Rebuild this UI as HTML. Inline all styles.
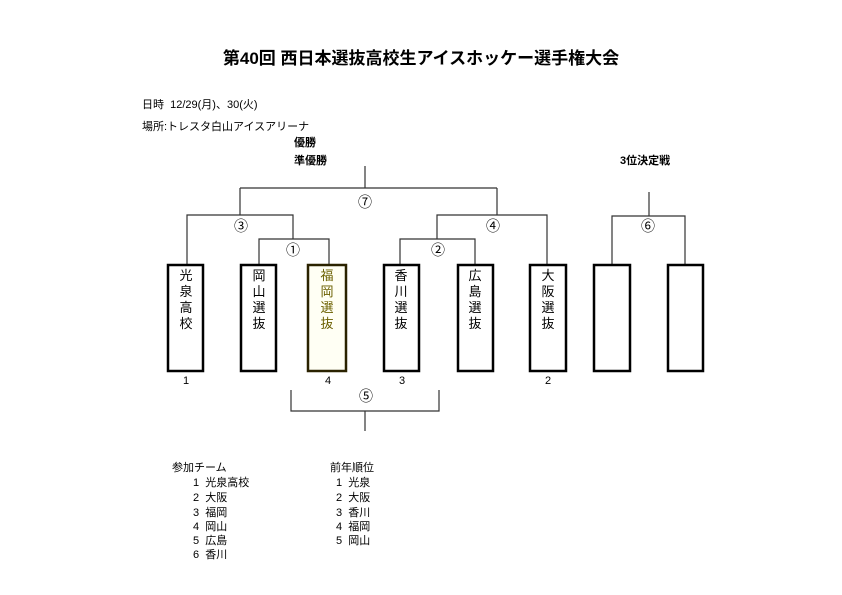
<!DOCTYPE html>
<html><head><meta charset="utf-8"><style>
html,body{margin:0;padding:0;background:#fff;}
svg{display:block;font-family:"Liberation Sans","Noto Sans CJK JP",sans-serif;}
text{white-space:pre;}
</style></head><body>
<svg width="842" height="595" viewBox="0 0 842 595" xmlns="http://www.w3.org/2000/svg" xml:space="preserve">
<rect width="842" height="595" fill="#fff"/>
<text x="421" y="64" font-size="17" font-weight="bold" text-anchor="middle">第40回 西日本選抜高校生アイスホッケー選手権大会</text>
<text x="142" y="108" font-size="11">日時  12/29(月)、30(火)</text>
<text x="142" y="130" font-size="11">場所:トレスタ白山アイスアリーナ</text>
<text x="294" y="146" font-size="11" font-weight="bold">優勝</text>
<text x="294" y="164" font-size="11" font-weight="bold">準優勝</text>
<text x="620" y="164" font-size="11" font-weight="bold">3位決定戦</text>
<g stroke="#333" stroke-width="1.2" fill="none">
<path d="M365 166V188M240 188H497M240 188V215M497 188V215"/>
<path d="M187 264V215H293V239M259 264V239H329V264"/>
<path d="M437 239V215H547V264M400 264V239H475V264"/>
<path d="M649 192V216M612 264V216H685V264"/>
<path d="M291 390V411H439V390M365 411V431"/>
</g>
<g stroke="#000" stroke-width="2.5" fill="#fff">
<rect x="168" y="265" width="35" height="106"/>
<rect x="241" y="265" width="35" height="106"/>
<rect x="308" y="265" width="38" height="106" stroke="#2a2200" fill="#fffff4"/>
<rect x="384" y="265" width="35" height="106"/>
<rect x="458" y="265" width="35" height="106"/>
<rect x="530" y="265" width="36" height="106"/>
<rect x="594" y="265" width="36" height="106"/>
<rect x="668" y="265" width="35" height="106"/>
</g>
<g font-size="13" text-anchor="middle">
<text x="186" y="280">光</text><text x="186" y="296">泉</text><text x="186" y="312">高</text><text x="186" y="328">校</text>
<text x="259" y="280">岡</text><text x="259" y="296">山</text><text x="259" y="312">選</text><text x="259" y="328">抜</text>
<g fill="#6b6000"><text x="327" y="280">福</text><text x="327" y="296">岡</text><text x="327" y="312">選</text><text x="327" y="328">抜</text></g>
<text x="401" y="280">香</text><text x="401" y="296">川</text><text x="401" y="312">選</text><text x="401" y="328">抜</text>
<text x="475" y="280">広</text><text x="475" y="296">島</text><text x="475" y="312">選</text><text x="475" y="328">抜</text>
<text x="548" y="280">大</text><text x="548" y="296">阪</text><text x="548" y="312">選</text><text x="548" y="328">抜</text>
</g>
<g font-size="11" text-anchor="middle">
<text x="186" y="384">1</text><text x="328" y="384">4</text><text x="402" y="384">3</text><text x="548" y="384">2</text>
</g>
<g font-size="14" text-anchor="middle">
<text x="365" y="207">⑦</text><text x="241" y="231">③</text><text x="293" y="255">①</text>
<text x="438" y="255">②</text><text x="493" y="231">④</text><text x="648" y="231">⑥</text><text x="366" y="401">⑤</text>
</g>
<g font-size="11">
<text x="172" y="471">参加チーム</text>
<text x="193" y="486">1  光泉高校</text>
<text x="193" y="501">2  大阪</text>
<text x="193" y="516">3  福岡</text>
<text x="193" y="530">4  岡山</text>
<text x="193" y="544">5  広島</text>
<text x="193" y="558">6  香川</text>
<text x="330" y="471">前年順位</text>
<text x="336" y="486">1  光泉</text>
<text x="336" y="501">2  大阪</text>
<text x="336" y="516">3  香川</text>
<text x="336" y="530">4  福岡</text>
<text x="336" y="544">5  岡山</text>
</g>
</svg>
</body></html>
